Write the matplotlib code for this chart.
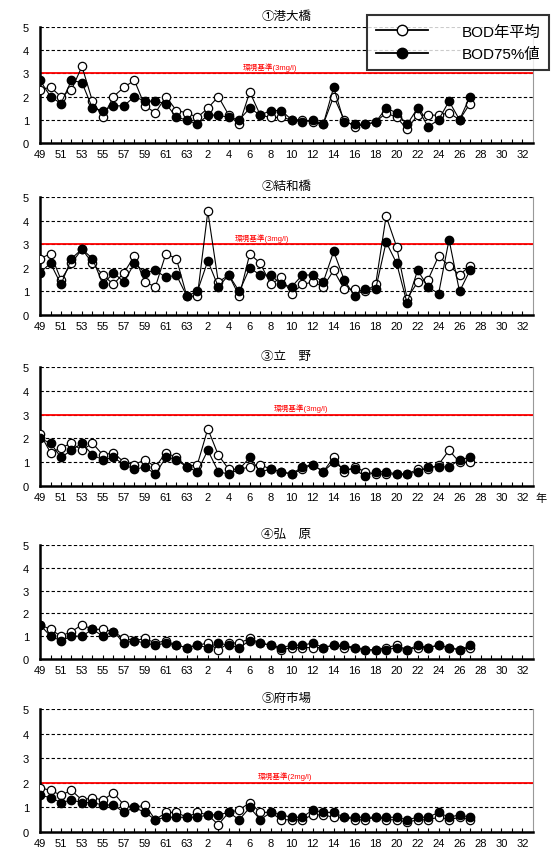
import matplotlib
matplotlib.use("Agg")
import matplotlib.pyplot as plt
from matplotlib.lines import Line2D

plt.rcParams['font.family'] = ['Liberation Sans', 'Noto Sans CJK JP', 'DejaVu Sans']

# S49 (1974) .. H27 (2015)
years = list(range(1974, 2016))
tick_years = list(range(1974, 2021, 2))
tick_labels = ["49", "51", "53", "55", "57", "59", "61", "63",
               "2", "4", "6", "8", "10", "12", "14", "16", "18", "20",
               "22", "24", "26", "28", "30", "32"]

titles = ["①港大橋", "②結和橋", "③立　野", "④弘　原", "⑤府市場"]
standards = [3, 3, 3, None, 2]
std_labels = ["環境基準(3mg/l)", "環境基準(3mg/l)", "環境基準(3mg/l)", None, "環境基準(2mg/l)"]

# 港大橋
minato_avg = [2.3, 2.4, 2.0, 2.3, 3.3, 1.8, 1.1, 2.0, 2.4, 2.7, 1.6, 1.3, 2.0, 1.4, 1.3,
              1.1, 1.5, 2.0, 1.2, 0.8, 2.2, 1.2, 1.1, 1.1, 1.0, 1.0, 0.9, 0.8, 2.0, 1.0,
              0.7, 0.8, 0.9, 1.3, 1.1, 0.6, 1.2, 1.2, 1.2, 1.3, 1.0, 1.7]
minato_75 = [2.7, 2.0, 1.7, 2.7, 2.6, 1.5, 1.4, 1.6, 1.6, 2.0, 1.8, 1.8, 1.7, 1.1, 1.0,
             0.8, 1.2, 1.2, 1.1, 1.0, 1.5, 1.2, 1.4, 1.4, 1.0, 0.9, 1.0, 0.8, 2.4, 0.9,
             0.8, 0.8, 0.9, 1.5, 1.3, 0.8, 1.5, 0.7, 1.0, 1.8, 1.0, 2.0]

# 結和橋
kekka_avg = [2.4, 2.6, 1.5, 2.2, 2.8, 2.2, 1.7, 1.3, 1.8, 2.5, 1.4, 1.2, 2.6, 2.4, 0.8,
             0.8, 4.4, 1.4, 1.7, 0.8, 2.6, 2.2, 1.3, 1.6, 0.9, 1.3, 1.4, 1.2, 1.9, 1.1,
             1.1, 1.0, 1.3, 4.2, 2.9, 0.7, 1.4, 1.5, 2.5, 2.1, 1.7, 2.1]
kekka_75 = [1.8, 2.2, 1.3, 2.4, 2.8, 2.4, 1.3, 1.8, 1.4, 2.2, 1.8, 1.9, 1.6, 1.7, 0.8,
            1.0, 2.3, 1.2, 1.7, 1.0, 2.0, 1.7, 1.7, 1.3, 1.2, 1.7, 1.7, 1.4, 2.7, 1.5,
            0.8, 1.1, 1.1, 3.1, 2.2, 0.5, 1.9, 1.2, 0.9, 3.2, 1.0, 1.9]

# 立野
tateno_avg = [2.2, 1.4, 1.6, 1.8, 1.5, 1.8, 1.3, 1.4, 1.0, 0.9, 1.1, 0.8, 1.4, 1.2, 0.8,
              0.9, 2.4, 1.3, 0.7, 0.7, 0.8, 0.9, 0.7, 0.6, 0.5, 0.7, 0.9, 0.6, 1.2, 0.6,
              0.8, 0.6, 0.5, 0.5, 0.5, 0.5, 0.7, 0.7, 0.9, 1.5, 1.0, 1.0]
tateno_75 = [2.0, 1.8, 1.2, 1.5, 1.8, 1.3, 1.1, 1.2, 0.9, 0.7, 0.8, 0.5, 1.2, 1.1, 0.8,
             0.6, 1.5, 0.6, 0.5, 0.7, 1.2, 0.6, 0.7, 0.6, 0.5, 0.8, 0.9, 0.6, 1.0, 0.7,
             0.7, 0.4, 0.6, 0.6, 0.5, 0.5, 0.6, 0.8, 0.8, 0.8, 1.1, 1.2]

# 弘原
hirohara_avg = [1.5, 1.3, 1.0, 1.2, 1.5, 1.3, 1.3, 1.2, 0.9, 0.8, 0.9, 0.7, 0.8, 0.6, 0.5,
                0.6, 0.7, 0.4, 0.7, 0.7, 0.9, 0.7, 0.6, 0.4, 0.5, 0.5, 0.5, 0.5, 0.6, 0.5,
                0.5, 0.4, 0.4, 0.5, 0.6, 0.4, 0.5, 0.5, 0.6, 0.5, 0.4, 0.5]
hirohara_75 = [1.5, 1.0, 0.8, 1.0, 1.0, 1.3, 1.0, 1.2, 0.7, 0.8, 0.7, 0.6, 0.7, 0.6, 0.5,
               0.6, 0.5, 0.7, 0.6, 0.5, 0.8, 0.7, 0.6, 0.5, 0.6, 0.6, 0.7, 0.5, 0.6, 0.6,
               0.5, 0.4, 0.4, 0.4, 0.5, 0.4, 0.6, 0.5, 0.6, 0.5, 0.4, 0.6]

# 府市場
fuichiba_avg = [1.8, 1.7, 1.5, 1.7, 1.3, 1.4, 1.3, 1.6, 1.1, 1.0, 1.1, 0.5, 0.8, 0.8, 0.6,
                0.8, 0.7, 0.3, 0.8, 0.9, 1.2, 0.8, 0.8, 0.5, 0.5, 0.5, 0.7, 0.7, 0.6, 0.6,
                0.5, 0.5, 0.6, 0.5, 0.5, 0.4, 0.5, 0.5, 0.6, 0.5, 0.6, 0.5]
fuichiba_75 = [1.5, 1.4, 1.2, 1.3, 1.2, 1.2, 1.1, 1.1, 0.8, 1.0, 0.8, 0.5, 0.6, 0.6, 0.6,
               0.6, 0.7, 0.7, 0.8, 0.5, 1.0, 0.5, 0.8, 0.7, 0.6, 0.6, 0.9, 0.8, 0.8, 0.6,
               0.6, 0.6, 0.6, 0.6, 0.6, 0.5, 0.6, 0.6, 0.8, 0.6, 0.7, 0.6]

avg_series = [minato_avg, kekka_avg, tateno_avg, hirohara_avg, fuichiba_avg]
p75_series = [minato_75, kekka_75, tateno_75, hirohara_75, fuichiba_75]

# axes boxes in figure fractions [left, bottom, width, height]
boxes = [
    [0.0725, 0.8312, 0.893, 0.136],
    [0.0725, 0.6295, 0.893, 0.138],
    [0.0725, 0.4291, 0.893, 0.1395],
    [0.0725, 0.2263, 0.893, 0.1336],
    [0.0725, 0.0234, 0.893, 0.1440],
]
std_text_x = [1993.3, 1992.6, 1996.3, None, 1994.8]

fig = plt.figure(figsize=(5.52, 8.53), dpi=100)

for i in range(5):
    ax = fig.add_axes(boxes[i])
    ax.set_xlim(1974, 2021)
    ax.set_ylim(0, 5)
    for g in [1, 2, 3, 4, 5]:
        ax.axhline(g, color="black", lw=0.8, ls=(0, (3, 2)), zorder=1)
    if standards[i] is not None:
        ax.axhline(standards[i], color="red", lw=1.3, zorder=2)
        ax.text(std_text_x[i], standards[i] + 0.12, std_labels[i], color="red",
                fontsize=5.5, va="bottom", ha="left")
    ax.plot(years, avg_series[i], color="black", lw=0.8, marker="o", ms=6,
            mfc="white", mec="black", mew=0.9, zorder=3)
    ax.plot(years, p75_series[i], color="black", lw=0.8, marker="o", ms=6,
            mfc="black", mec="black", zorder=4)

    ax.set_xticks(tick_years)
    ax.set_xticklabels(tick_labels, fontsize=8)
    ax.set_xticks(range(1974, 2021), minor=True)
    ax.tick_params(axis="x", which="both", direction="in", length=3, width=0.8, pad=4)
    ax.set_yticks([0, 1, 2, 3, 4, 5])
    ax.set_yticklabels(["0", "1", "2", "3", "4", "5"], fontsize=8)
    ax.tick_params(axis="y", length=0, pad=8)

    ax.spines["top"].set_visible(False)
    ax.spines["right"].set_color("#999999")
    ax.spines["right"].set_linewidth(0.8)
    ax.spines["left"].set_linewidth(1.8)
    ax.spines["bottom"].set_linewidth(1.8)

    ax.set_title(titles[i], fontsize=9, pad=6)

    if i == 2:
        ax.text(1.005, -0.06, "年", transform=ax.transAxes, fontsize=8,
                ha="left", va="top")

handles = [
    Line2D([], [], color="black", lw=1.3, marker="o", ms=7.5, mfc="white", mec="black"),
    Line2D([], [], color="black", lw=1.3, marker="o", ms=7.5, mfc="black", mec="black"),
]
leg = fig.legend(handles, ["BOD年平均", "BOD75%値"], loc="upper right",
                 bbox_to_anchor=(0.995, 0.981), borderaxespad=0, fontsize=11,
                 frameon=True, fancybox=False, edgecolor="black", handlelength=3.4,
                 handletextpad=2.2, borderpad=0.6, labelspacing=0.55)
leg.get_frame().set_linewidth(1.5)

fig.savefig("out.png", dpi=100)
